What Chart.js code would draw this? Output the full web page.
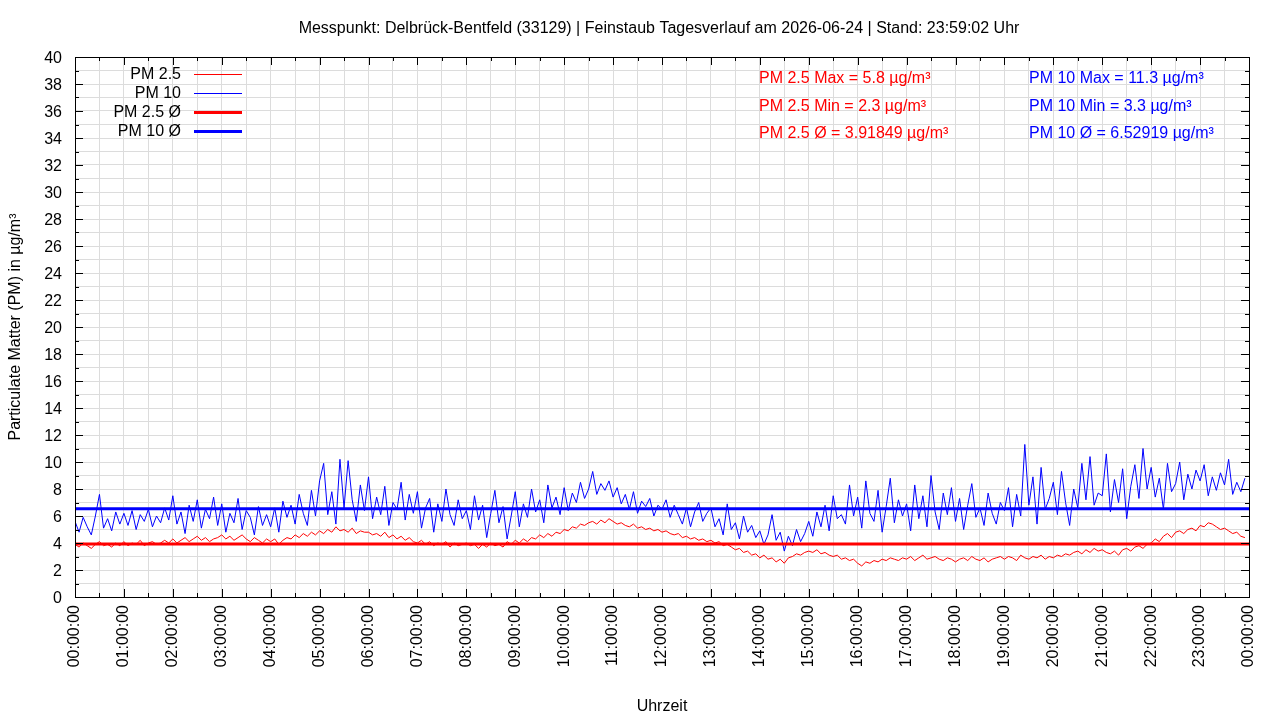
<!DOCTYPE html>
<html>
<head>
<meta charset="utf-8">
<script src="https://cdn.jsdelivr.net/npm/chart.js@4.4.1/dist/chart.umd.min.js"></script>
<style>
  html, body { margin: 0; padding: 0; background: #ffffff; }
  #wrap { width: 1280px; height: 720px; }
</style>
</head>
<body>
<div id="wrap"><canvas id="c" width="1280" height="720"></canvas></div>
<script>
// ---------- DATA ----------
const chartTitle = 'Messpunkt: Delbrück-Bentfeld (33129) | Feinstaub Tagesverlauf am 2026-06-24 | Stand: 23:59:02 Uhr';
const xTitle = 'Uhrzeit';
const yTitle = 'Particulate Matter (PM) in µg/m³';
const seriesNames = ['PM 2.5', 'PM 10', 'PM 2.5 Ø', 'PM 10 Ø'];
const sampleStepMinutes = 5;   // one reading every 5 minutes, starting at 00:00
const dayMinutes = 1440;

// PM 10 readings (µg/m³), 12 per hour
const pm10 = [
  5.6, 4.8, 5.9, 5.2, 4.6, 6.0, 7.6, 5.1, 5.8, 4.9, 6.3, 5.4,
  6.2, 5.3, 6.4, 5.0, 6.1, 5.6, 6.5, 5.2, 6.0, 5.5, 6.6, 5.7,
  7.5, 5.4, 6.3, 4.7, 6.8, 5.6, 7.2, 5.1, 6.5, 5.8, 7.4, 5.3,
  6.9, 4.8, 6.2, 5.5, 7.3, 5.0, 6.4, 5.9, 4.6, 6.7, 5.3, 6.1,
  5.2, 6.6, 4.8, 7.1, 5.9, 6.8, 5.4, 7.6, 6.2, 5.3, 7.9, 6.0,
  8.6, 9.9, 6.1, 7.8, 5.4, 10.2, 6.6, 10.1, 7.2, 5.6, 8.3, 6.4,
  8.9, 5.8, 7.4, 6.1, 8.2, 5.3, 7.0, 6.5, 8.5, 5.7, 7.6, 6.2,
  7.8, 5.1, 6.6, 7.3, 4.8, 6.9, 5.6, 8.0, 6.1, 5.3, 7.2, 5.8,
  6.4, 5.0, 7.5, 5.7, 6.8, 4.4, 6.2, 7.9, 5.5, 6.7, 4.3, 6.0,
  7.8, 5.2, 6.9, 5.9, 8.0, 6.3, 7.2, 5.5, 8.3, 6.6, 7.4, 6.1,
  8.1, 6.4, 7.7, 7.0, 8.5, 7.3, 8.0, 9.3, 7.6, 8.4, 7.9, 8.6,
  7.4, 8.1, 6.9, 7.6, 6.5, 7.8, 6.2, 7.1, 6.7, 7.3, 6.0, 6.8,
  6.5, 7.2, 5.9, 6.8, 6.1, 5.4, 6.6, 5.2, 6.3, 7.0, 5.6, 6.2,
  6.6, 5.2, 5.8, 4.6, 6.9, 5.0, 5.5, 4.3, 6.0, 4.8, 5.3, 4.4,
  4.9, 3.9, 4.6, 6.1, 4.2, 4.8, 3.4, 4.5, 3.8, 5.0, 4.1, 4.7,
  5.6, 4.5, 6.3, 5.2, 6.8, 4.9, 7.5, 5.8, 6.1, 5.4, 8.3, 6.0,
  7.4, 5.1, 8.6, 6.2, 5.6, 7.9, 4.8, 6.7, 8.8, 5.5, 7.2, 6.0,
  6.9, 4.9, 8.3, 5.8, 7.5, 5.2, 9.0, 6.3, 5.0, 7.7, 6.1, 8.1,
  5.6, 7.3, 5.0, 6.8, 8.4, 5.9, 6.6, 5.3, 7.7, 6.2, 5.4, 7.0,
  6.4, 8.1, 5.2, 7.6, 6.0, 11.3, 6.8, 8.9, 5.4, 9.6, 6.5, 7.3,
  8.5, 6.1, 9.3, 7.0, 5.3, 8.0, 6.6, 9.9, 7.2, 10.4, 6.8, 7.7,
  7.5, 10.6, 6.3, 8.7, 7.0, 9.5, 5.8, 8.2, 9.8, 7.3, 11.0, 8.0,
  9.6, 7.4, 8.8, 6.5, 9.9, 7.8, 8.4, 10.0, 7.2, 9.1, 8.0, 9.4,
  8.6, 9.8, 7.5, 8.9, 7.9, 9.2, 8.3, 10.2, 7.6, 8.5, 7.8, 8.8
];

// PM 2.5 readings (µg/m³), 12 per hour
const pm25 = [
  3.9, 3.7, 4.0, 3.8, 3.6, 3.9, 4.1, 3.8, 3.9, 3.7, 4.0, 3.8,
  4.1, 3.8, 4.0, 3.9, 4.2, 3.8, 4.0, 4.1, 3.9, 4.0, 4.2, 4.0,
  4.3, 4.0, 4.2, 4.4, 4.1, 4.3, 4.5, 4.2, 4.4, 4.1, 4.3, 4.4,
  4.6, 4.3, 4.5, 4.2, 4.4, 4.6, 4.3, 4.1, 4.4, 4.2, 4.0, 4.3,
  4.1, 4.3, 3.9, 4.2, 4.4, 4.3, 4.6, 4.4, 4.7, 4.5, 4.8, 4.6,
  4.9, 4.7, 5.0, 4.8, 5.2, 4.9, 5.0, 4.8, 5.1, 4.7, 4.9, 4.8,
  4.8, 4.6, 4.7, 4.5, 4.8, 4.4, 4.6, 4.3, 4.5, 4.2, 4.4, 4.1,
  4.0, 4.2, 3.9, 4.1, 3.8, 4.0, 3.9, 4.1, 3.7, 4.0, 3.8, 3.9,
  4.0, 3.8, 3.9, 3.6, 3.9, 3.7, 4.0, 3.8, 3.9, 3.7, 4.1, 3.9,
  4.2, 4.0, 4.3, 4.1, 4.4, 4.3, 4.6, 4.4, 4.7, 4.5, 4.8, 4.7,
  5.0, 4.9, 5.2, 5.1, 5.4, 5.3, 5.5, 5.6, 5.4, 5.7, 5.5, 5.8,
  5.6, 5.4, 5.5, 5.3, 5.2, 5.4, 5.1, 5.2, 5.0, 5.1, 4.9, 5.0,
  4.8, 4.9, 4.7, 4.6, 4.7, 4.4, 4.5, 4.3, 4.4, 4.2, 4.3, 4.1,
  4.2, 4.0, 4.1, 3.8, 3.9, 3.7, 3.5, 3.6, 3.3, 3.4, 3.1, 3.2,
  2.9, 3.1, 2.8, 2.9, 2.6, 2.8, 2.5, 2.9, 3.0, 3.2, 3.1, 3.3,
  3.4, 3.3, 3.5, 3.2, 3.3, 3.1, 3.0, 3.1, 2.8, 2.9, 2.7, 2.8,
  2.5, 2.3, 2.6, 2.5, 2.7, 2.6, 2.8, 2.7, 2.9, 2.8, 2.7, 2.9,
  2.8, 3.0, 2.7, 2.9, 3.1, 2.8, 2.9, 3.0, 2.8, 2.7, 2.9, 2.8,
  2.6, 2.8, 2.9, 2.7, 3.0, 2.8, 2.7, 2.9, 2.6, 2.8, 2.9, 3.0,
  2.8, 3.0, 2.9, 2.7, 3.1, 2.9, 2.8, 3.0, 2.9, 3.1, 2.8, 3.0,
  2.9, 3.1, 3.0, 3.2, 3.1, 3.3, 3.4, 3.2, 3.5, 3.3, 3.6, 3.4,
  3.5, 3.3, 3.2, 3.4, 3.1, 3.5, 3.6, 3.4, 3.7, 3.8, 3.6, 3.9,
  4.0, 4.3, 4.1, 4.5, 4.7, 4.4, 4.8, 4.9, 4.7, 5.0, 5.1, 4.9,
  5.3, 5.2, 5.5, 5.4, 5.2, 5.0, 5.1, 4.9, 4.7, 4.8, 4.5, 4.4
];

// Statistics as printed on the chart
const pm25Max = 5.8, pm25Min = 2.3, pm25Avg = 3.91849;
const pm10Max = 11.3, pm10Min = 3.3, pm10Avg = 6.52919;

// Axis ranges / ticks
const yMin = 0, yMax = 40, yStep = 1, yLabelEvery = 2;
const xStepMinutes = 30, xLabelEveryMinutes = 60;

// ---------- BUILD ----------
const FONT = '"Liberation Sans", Arial, "DejaVu Sans", sans-serif';
Chart.defaults.font.family = FONT;
Chart.defaults.font.size = 16;
Chart.defaults.color = '#000000';

const toPoints = arr => arr.map((v, i) => ({ x: i * sampleStepMinutes, y: v }));
const flat = v => [{ x: 0, y: v }, { x: dayMinutes, y: v }];
const pad2 = n => String(n).padStart(2, '0');

const legendItems = [
  { label: seriesNames[0], color: '#ff0000', width: 1 },
  { label: seriesNames[1], color: '#0000ff', width: 1 },
  { label: seriesNames[2], color: '#ff0000', width: 3 },
  { label: seriesNames[3], color: '#0000ff', width: 3 }
];

const decorPlugin = {
  id: 'decor',
  afterDraw(chart) {
    const ctx = chart.ctx;
    const a = chart.chartArea;
    const xs = chart.scales.x, ys = chart.scales.y;
    ctx.save();
    // tick marks (inside, all four sides)
    ctx.strokeStyle = '#000000';
    ctx.lineWidth = 1;
    ctx.beginPath();
    for (let m = 0; m <= dayMinutes; m += xStepMinutes) {
      const px = Math.round(xs.getPixelForValue(m)) + 0.5;
      const len = (m % xLabelEveryMinutes === 0) ? 8 : 4;
      ctx.moveTo(px, a.bottom); ctx.lineTo(px, a.bottom - len);
      ctx.moveTo(px, a.top); ctx.lineTo(px, a.top + len);
    }
    for (let v = yMin; v <= yMax; v += yStep) {
      const py = Math.round(ys.getPixelForValue(v)) + 0.5;
      const len = (v % yLabelEvery === 0) ? 8 : 4;
      ctx.moveTo(a.left, py); ctx.lineTo(a.left + len, py);
      ctx.moveTo(a.right, py); ctx.lineTo(a.right - len, py);
    }
    ctx.stroke();
    // border
    ctx.strokeRect(Math.round(a.left) + 0.5, Math.round(a.top) + 0.5,
                   Math.round(a.right - a.left), Math.round(a.bottom - a.top));

    // title
    ctx.font = '16px ' + FONT;
    ctx.fillStyle = '#000000';
    ctx.textAlign = 'center';
    ctx.textBaseline = 'middle';
    ctx.fillText(chartTitle, 659, 29);

    // legend
    ctx.textAlign = 'right';
    legendItems.forEach((it, i) => {
      const y = 74 + i * 19;
      ctx.fillStyle = '#000000';
      ctx.fillText(it.label, 181, y + 1);
      ctx.strokeStyle = it.color;
      ctx.lineWidth = it.width;
      ctx.beginPath();
      ctx.moveTo(194, y + 0.5);
      ctx.lineTo(242, y + 0.5);
      ctx.stroke();
    });

    // statistics
    ctx.textAlign = 'left';
    ctx.fillStyle = '#ff0000';
    ctx.fillText('PM 2.5 Max = ' + pm25Max.toFixed(1) + ' µg/m³', 759, 79);
    ctx.fillText('PM 2.5 Min = ' + pm25Min.toFixed(1) + ' µg/m³', 759, 107);
    ctx.fillText('PM 2.5 Ø = ' + pm25Avg + ' µg/m³', 759, 134);
    ctx.fillStyle = '#0000ff';
    ctx.fillText('PM 10 Max = ' + pm10Max.toFixed(1) + ' µg/m³', 1029, 79);
    ctx.fillText('PM 10 Min = ' + pm10Min.toFixed(1) + ' µg/m³', 1029, 107);
    ctx.fillText('PM 10 Ø = ' + pm10Avg + ' µg/m³', 1029, 134);
    ctx.restore();
  }
};

new Chart(document.getElementById('c'), {
  type: 'line',
  data: {
    datasets: [
      { label: seriesNames[0], data: toPoints(pm25), borderColor: '#ff0000', borderWidth: 1, pointRadius: 0, tension: 0, order: 4 },
      { label: seriesNames[1], data: toPoints(pm10), borderColor: '#0000ff', borderWidth: 1, pointRadius: 0, tension: 0, order: 3 },
      { label: seriesNames[2], data: flat(pm25Avg), borderColor: '#ff0000', borderWidth: 3, pointRadius: 0, order: 2 },
      { label: seriesNames[3], data: flat(pm10Avg), borderColor: '#0000ff', borderWidth: 3, pointRadius: 0, order: 1 }
    ]
  },
  options: {
    responsive: false,
    animation: false,
    devicePixelRatio: 1,
    layout: { padding: { top: 57, right: 31, left: 0, bottom: 0 } },
    plugins: { legend: { display: false }, title: { display: false }, tooltip: { enabled: false } },
    scales: {
      x: {
        type: 'linear',
        min: 0, max: dayMinutes,
        afterFit(s) { s.height = 123; },
        afterBuildTicks(s) {
          const t = [];
          for (let m = 0; m <= dayMinutes; m += xStepMinutes) t.push({ value: m });
          s.ticks = t;
        },
        ticks: {
          autoSkip: false, minRotation: 90, maxRotation: 90, padding: 8,
          callback(v) {
            if (v % xLabelEveryMinutes !== 0) return '';
            const h = (v / 60) % 24;
            return pad2(h) + ':00:00';
          }
        },
        grid: { color: '#dcdcdc', drawTicks: false, lineWidth: 1 },
        border: { display: true, color: '#000000' },
        title: { display: true, text: xTitle, padding: { top: 0, bottom: 4 } }
      },
      y: {
        type: 'linear',
        min: yMin, max: yMax,
        afterFit(s) { s.width = 75; },
        ticks: {
          stepSize: yStep, autoSkip: false, padding: 13, labelOffset: 2,
          callback(v) { return (v % yLabelEvery === 0) ? String(v) : ''; }
        },
        grid: { color: '#dcdcdc', drawTicks: false, lineWidth: 1 },
        border: { display: true, color: '#000000' },
        title: { display: true, text: yTitle, padding: { top: 6, bottom: 0 } }
      }
    }
  },
  plugins: [decorPlugin]
});
</script>
</body>
</html>
